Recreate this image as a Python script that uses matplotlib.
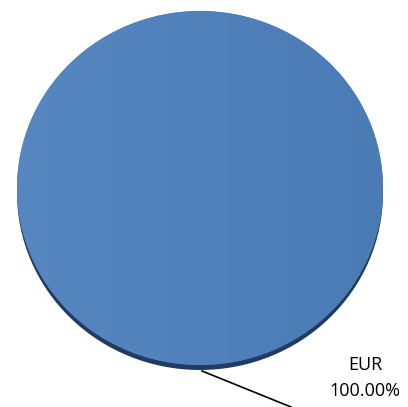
import matplotlib.pyplot as plt
from matplotlib.colors import LinearSegmentedColormap
import numpy as np

# Currency split of the portfolio
currencies = ['EUR']
shares = [100.0]

FACE_LEFT = '#5787c1'
FACE_RIGHT = '#4b7bb4'
RIM_COLOR = '#203c62'

W, H = 408, 407
fig = plt.figure(figsize=(W / 100, H / 100), dpi=100)
ax = fig.add_axes([0, 0, 1, 1])

# disc is a bit flatter than round, so y data units are stretched
r = 183
squash = r / 177
cx, cy = 200, 219 * squash

# darker slab under the disc gives the 3D edge
ax.pie(shares, colors=[RIM_COLOR], center=(cx, cy - 5 * squash), radius=r,
       startangle=90, counterclock=False, frame=True)
wedges, _ = ax.pie(shares, colors=[FACE_LEFT], center=(cx, cy), radius=r,
                   startangle=90, counterclock=False, frame=True)

# soft left-to-right shading on the top face
grad = np.linspace(0, 1, 256).reshape(1, -1)
cmap = LinearSegmentedColormap.from_list('face', [FACE_LEFT, FACE_RIGHT])
img = ax.imshow(grad, cmap=cmap, extent=(cx - r, cx + r, cy - r, cy + r),
                aspect='auto', zorder=wedges[0].get_zorder() + 0.1)
img.set_clip_path(wedges[0])

ax.set_aspect('auto')
ax.set_xlim(0, W)
ax.set_ylim(0, H * squash)
ax.axis('off')

# leader line and label, placed in axes fractions
label = f'{currencies[0]}\n{shares[0]:.2f}%'
ax.plot([202 / W, 291 / W], [(H - 371) / H, 0], color='black', lw=1.2,
        transform=ax.transAxes, clip_on=False)
ax.text(365 / W, (H - 378) / H, label, ha='center', va='center',
        fontsize=13, family='Open Sans', linespacing=1.6,
        transform=ax.transAxes)

fig.savefig('out.png', dpi=100)
